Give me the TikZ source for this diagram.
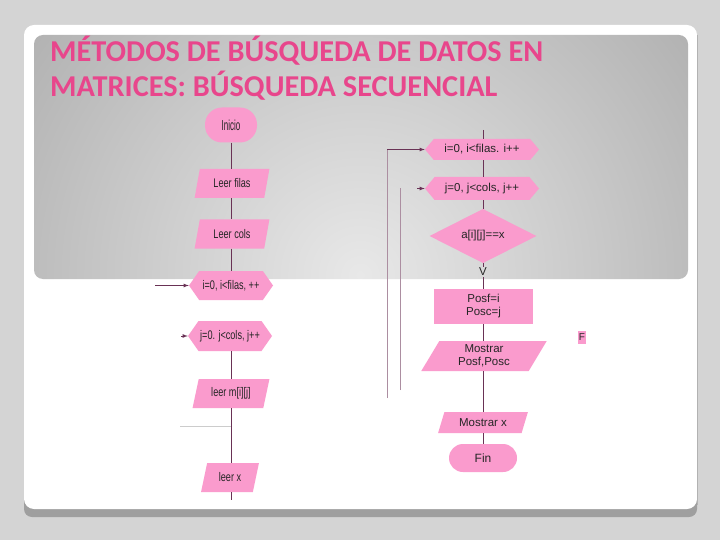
\documentclass[tikz,border=0pt]{standalone}
\usepackage{fontspec}
\setmainfont{Liberation Sans}
\newfontfamily\titlefont{Carlito}
\newfontfamily\narrowfont[FakeStretch=0.73]{Liberation Sans}
\newfontfamily\tallfont[FakeStretch=0.55]{Liberation Sans}
\usetikzlibrary{shapes.geometric, shapes.symbols, positioning}

\definecolor{slidegray}{RGB}{212,212,212}
\definecolor{titlepink}{RGB}{232,70,140}
\definecolor{boxpink}{RGB}{250,155,205}
\definecolor{flowline}{RGB}{105,50,85}

\begin{document}
\begin{tikzpicture}[x=1pt, y=-1pt,
    every node/.style={inner sep=0pt, text=black!85},
    bx/.style={fill=boxpink, align=center, font=\fontsize{11.5}{13}\selectfont},
    lft/.style={font=\narrowfont\fontsize{12.5}{14}\selectfont},
    term/.style={bx, rectangle},
    io/.style={bx, trapezium, trapezium stretches=true, trapezium left angle=72, trapezium right angle=108},
    hexa/.style={bx, signal, signal to=east and west, signal pointer angle=110},
    decision/.style={bx, diamond},
    process/.style={bx, rectangle},
    flow/.style={draw=flowline, line width=0.8pt},
    loopline/.style={draw=flowline!55, line width=0.6pt},
    ptr/.style={flow, -latex}]

    \useasboundingbox (0,0) rectangle (720,540); % same size as the slide picture

    % slide, its shadow and the grey title panel
    \fill[slidegray] (0,0) rectangle (720,540);
    \fill[gray!75, rounded corners=8pt] (24,40) rectangle (697,517);
    \fill[white, rounded corners=10pt] (24,25) rectangle (697,509);
    \draw[gray!60] (697,35) -- (697,505);
    \begin{scope}
        \clip[rounded corners=9pt] (34,35) rectangle (688,279);
        \shade[inner color=gray!18, outer color=gray!72] (360,275) circle (520);
    \end{scope}

    \begin{scope}[every node/.style={anchor=base west, inner sep=0pt, text=titlepink,
                  font=\titlefont\bfseries\fontsize{30.3}{35}\selectfont}]
        \node (title1) at (50,62) {MÉTODOS DE BÚSQUEDA DE DATOS EN};
        \node (title2) at (50,97) {MATRICES: BÚSQUEDA SECUENCIAL};
    \end{scope}

    % left column: reading the matrix
    \node [term, minimum width=52pt, minimum height=35pt, rounded corners=17pt,
           font=\tallfont\fontsize{14.5}{16}\selectfont] (inicio) at (231,125) {Inicio};
    \node [io, lft, minimum width=75pt, minimum height=29pt] (leerf) at (232,183.5) {Leer filas};
    \node [io, lft, minimum width=75pt, minimum height=29pt] (leerc) at (232,234) {Leer cols};
    \node [hexa, lft, minimum width=84pt, minimum height=29pt] (hexi) at (231,285.5) {i=0, i<filas, ++};
    \node [hexa, lft, minimum width=84pt, minimum height=30pt] (hexj) at (230,336) {j=0. j<cols, j++};
    \node [io, lft, minimum width=77pt, minimum height=29pt] (leerm) at (231,393.5) {leer m[i][j]};
    \node [io, lft, minimum width=58pt, minimum height=29pt] (leerx) at (230,477.5) {leer x};

    \coordinate (inL)  at (155,285.5);
    \coordinate (jinL) at (181,336);
    \coordinate (endL) at (231,500);
    \coordinate (cutL) at (180,426);

    \foreach \a/\b in {inicio/leerf, leerf/leerc, leerc/hexi, hexj/leerm, leerm/leerx}
        \draw [flow] (\a.south -| inicio) -- (\b.north -| inicio);
    \draw [flow] (leerx.south -| inicio) -- (endL);
    \draw [ptr] (inL) -- (hexi.west);
    \draw [ptr] (jinL) -- (hexj.west);
    \draw [gray!40, line width=0.8pt] (cutL) -- (cutL -| inicio);

    % right column: sequential search
    \node [hexa, minimum width=114pt, minimum height=21pt, signal pointer angle=100] (hexi2) at (482,149.5) {i=0, i<filas. i++};
    \node [hexa, minimum width=114pt, minimum height=23pt, signal pointer angle=100] (hexj2) at (482,188.5) {j=0, j<cols, j++};
    \node [decision, minimum width=107pt, minimum height=38pt] (cond) at (483,236) {a[i][j]==x};
    \node [font=\fontsize{11.5}{13}\selectfont, inner sep=1pt] (vlbl) at (483,272) {V};
    \node [process, minimum width=99pt, minimum height=35pt] (pos) at (483.5,306.5) {Posf=i\\Posc=j};
    \node [io, minimum width=126pt, minimum height=30pt, trapezium left angle=65, trapezium right angle=115] (showp) at (484,356) {Mostrar\\Posf,Posc};
    \node [io, minimum width=90pt, minimum height=21pt, trapezium left angle=64, trapezium right angle=116] (showx) at (483,422.5) {Mostrar x};
    \node [term, minimum width=68pt, minimum height=28pt, rounded corners=14pt, font=\fontsize{12}{14}\selectfont] (fin) at (483,458) {Fin};
    \node [bx, minimum width=8pt, minimum height=13pt, font=\fontsize{10}{12}\selectfont] (flbl) at (582,337) {F};

    \coordinate (topR)  at (483,130);
    \coordinate (loopA) at (387,398);
    \coordinate (loopB) at (400,390);
    \coordinate (jinR)  at (417,188.5);

    \draw [flow] (topR) -- (topR |- hexi2.north);
    \foreach \a/\b in {hexi2/hexj2, hexj2/cond, cond/vlbl, vlbl/pos, pos/showp, showp/showx, showx/fin}
        \draw [flow] (\a.south -| topR) -- (\b.north -| topR);
    \draw [loopline] (loopA) -- (loopA |- hexi2.west);
    \draw [ptr] (loopA |- hexi2.west) -- (hexi2.west);
    \draw [loopline] (loopB) -- (loopB |- hexj2.west);
    \draw [ptr] (jinR) -- (hexj2.west);

\end{tikzpicture}
\end{document}
